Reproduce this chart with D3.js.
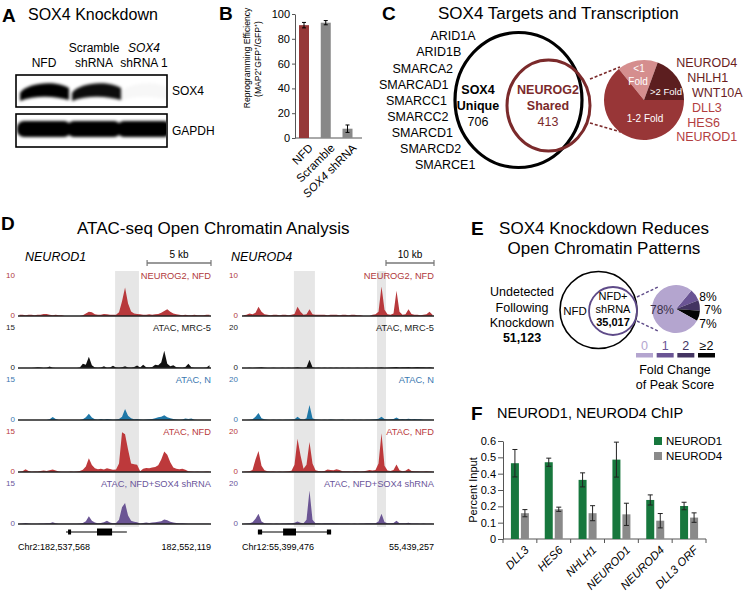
<!DOCTYPE html>
<html><head><meta charset="utf-8">
<script src="https://cdn.jsdelivr.net/npm/d3@7"></script>
<style>
body{margin:0;background:#fff}
svg{display:block;font-family:"Liberation Sans",Arial,Helvetica,sans-serif}
</style></head><body>
<svg id="fig" width="744" height="592"></svg>
<script>
// ================= DATA =================
// Panel A – western blot
const blotLanes = ["NFD", "Scramble shRNA", "SOX4 shRNA 1"];
const blotRows = ["SOX4", "GAPDH"];
const sox4BandLevel = [1.0, 0.95, 0.03];
const gapdhBandLevel = [1.0, 1.0, 1.0];

// Panel B – reprogramming efficiency
const effCategories = ["NFD", "Scramble", "SOX4 shRNA"];
const effValues = [91, 93, 7.5];
const effErrors = [2.2, 1.7, 3.0];
const effTicks = [0, 20, 40, 60, 80, 100];

// Panel C – SOX4 targets
const swiSnfGenes = ["ARID1A","ARID1B","SMARCA2","SMARCAD1","SMARCC1","SMARCC2","SMARCD1","SMARCD2","SMARCE1"];
const vennSetNames = [["SOX4","Unique"], ["NEUROG2","Shared"]];
const vennCounts = [706, 413];
const foldCategories = [["<1","Fold"], [">2 Fold"], ["1-2 Fold"]];
const foldShares = [16.4, 19.4, 64.2];
const upregTargets = ["NEUROD4","NHLH1","WNT10A","DLL3","HES6","NEUROD1"];
const upregGroup = [">2", ">2", ">2", "1-2", "1-2", "1-2"];

// Panel D – ATAC-seq tracks (64 bins per locus)
const trackNames = ["NEUROG2, NFD", "ATAC, MRC-5", "ATAC, N", "ATAC, NFD", "ATAC, NFD+SOX4 shRNA"];
const neurod1Max = [10, 15, 15, 15, 15];
const neurod4Max = [10, 20, 20, 20, 20];
const neurod1SpanKb = 15.1;
const neurod4SpanKb = 40;
const neurod1ScaleKb = 5;
const neurod4ScaleKb = 10;
const neurod1Coords = ["Chr2:182,537,568", "182,552,119"];
const neurod4Coords = ["Chr12:55,399,476", "55,439,257"];
const neurod1Highlight = [[32.2, 40.1]];
const neurod4Highlight = [[17.3, 24.3], [45.0, 48.0]];
const neurod1Gene = {line: [15.9, 36.1], exons: [[16.6, 17.6], [26.2, 31.2]]};
const neurod4Gene = {line: [5.3, 29.7], exons: [[5.3, 6.7], [13.7, 18.0], [28.3, 29.7]]};

const neurod1_NEUROG2 = [0.3,0.3,0.2,0.3,0.3,0.2,0.3,0.3,0.5,0.5,0.3,0.2,0.3,0.2,0.2,0,0,0,0,0,0,0.2,0.6,1.0,0.9,0.4,0.3,0.3,0.5,0.4,0.3,0.3,0.3,0.9,3.5,6.8,3.0,1.1,0.6,0.5,0.4,0.3,0.3,0.4,0.3,0.4,0.5,0.8,1.2,1.6,1.0,0.6,0.4,0.3,0.2,0.3,0.2,0.2,0.3,0.2,0.2,0.2,0.3,0.3];
const neurod1_MRC5 = [0,0,0,0,0,0.1,0.3,0.2,0,0.1,0.5,0.1,0,0,0,0,0,0,0,0,0.2,1.5,1.2,4.0,1.0,0.2,0.1,0.2,0.6,0.1,0.2,0.8,0.2,0.1,0.3,0.6,0.2,0.1,0.4,0.9,0.2,1.2,0.3,0.2,0.4,1.2,1.0,2.0,6.2,1.5,0.6,1.0,0.3,0.2,0.1,0.4,1.5,0.3,0.1,0.1,0.1,0.1,0.2,1.0];
const neurod1_N = [0,0,0,0,0,0,0,0,0,0,0.3,1.1,0.4,0,0,0,0,0,0,0,0,0.3,1.0,2.2,0.9,0.3,0.1,0.4,0.2,0.4,0.3,0.1,0.2,0.4,1.2,3.9,1.5,0.6,0.3,0.4,0.2,0.1,0.2,0.3,0.4,0.6,1.0,1.2,1.7,1.0,0.6,0.4,0.2,0.1,0.2,0.5,0.4,0.5,0.1,0,0,0,0,0];
const neurod1_NFD = [0.1,0.3,1.0,0.4,0.1,0.2,0.2,0.4,0.5,0.4,0.6,0.9,0.5,0.2,0.1,0.1,0.1,0.2,0.1,0.2,0.4,0.8,2.0,4.9,2.5,1.3,1.0,1.2,0.9,1.3,1.1,0.8,0.9,3.0,14.2,13.5,8.0,3.0,2.8,2.6,0.3,1.2,1.4,1.3,1.6,1.8,2.4,4.5,7.3,6.2,3.5,1.6,1.2,1.0,1.2,0.8,0.3,0.2,0.1,0.2,0.1,0.1,0.2,0.2];
const neurod1_shSOX4 = [0.1,0.2,0.4,0.2,0.1,0.1,0.1,0.2,0.2,0.3,0.3,0.6,0.3,0.1,0.1,0.1,0.1,0.1,0.1,0.1,0.2,0.4,1.0,2.8,1.2,0.5,0.3,0.4,0.6,1.2,0.5,0.3,0.4,1.5,6.0,7.5,3.0,1.2,0.8,0.6,0.2,0.4,0.5,0.4,0.5,0.6,0.8,1.0,1.6,1.3,0.8,0.5,0.4,0.3,0.3,0.2,0.1,0.1,0.1,0.1,0.1,0.1,0.1,0.1];

const neurod4_NEUROG2 = [0.2,0.3,0.6,0.4,0.8,2.2,1.0,0.4,0.3,0.2,0.3,0.3,0.2,0.3,0.3,0.2,0.3,0.5,2.2,1.0,0.3,0.4,1.6,0.4,0.3,0.3,0.3,0.3,0.2,0.3,0.3,0.3,0.2,0.3,0.3,0.2,0.3,0.3,0.2,0.2,0,0,0,0.3,0.4,1.0,7.0,1.5,0.4,0.3,0.6,6.0,1.0,0.3,0.4,1.6,0.5,0.3,0.3,0.2,0.3,0.4,1.0,0.3];
const neurod4_MRC5 = [0,0,0.1,0,0.1,0.2,0.4,0.1,0,0,0.1,0,0,0.1,0,0.1,0,0.1,0.3,0.1,0,0.3,3.9,0.3,0,0.1,0,0.1,0,0.1,0,0.1,0,0.1,0,0.1,0,0,0.1,0,0,0.1,0,0.1,0,0.1,0.2,0,0.1,0.2,0.4,0.5,0.2,0.4,0.3,0.5,0.2,0.4,0.5,0.3,0.4,0.2,0.4,0.1];
const neurod4_N = [0,0,0.1,0.4,1.5,3.3,0.8,0.3,0.1,0,0.1,0,0.1,0,0.1,0.1,0.2,0.4,1.5,0.5,0.2,0.8,7.2,0.8,0.2,0.1,0,0.1,0,0.2,0.1,0,0.1,0.2,0,0.1,0,0.1,0,0.1,0,0.1,0.1,0.2,0.3,0.6,1.5,0.5,0.2,0.3,0.5,1.2,0.4,0.5,0.4,0.6,0.3,0.5,0.4,0.3,0.1,0.1,0.1,0];
const neurod4_NFD = [0.1,0.2,0.3,1.0,6.0,10.0,3.0,0.8,0.3,0.2,0.2,0.1,0.2,0.1,0.2,0.3,0.6,3.5,15.8,8.0,1.5,3.5,14.3,4.0,0.8,0.5,0.4,0.5,1.2,1.0,0.8,1.3,0.9,0.4,0.3,0.3,0.2,0.3,0.3,0.2,0.3,0.6,0.9,0.7,1.0,4.0,18.4,3.0,0.7,0.5,1.0,3.6,0.8,0.4,0.6,1.6,0.5,0.3,0.3,0.2,0.2,0.3,0.2,0.1];
const neurod4_shSOX4 = [0.1,0.2,0.3,0.8,2.5,4.9,1.2,0.4,0.2,0.2,0.1,0.2,0.1,0.2,0.2,0.3,0.3,0.6,1.2,0.6,0.4,2.0,16.0,2.0,0.4,0.3,0.2,0.3,0.4,0.3,0.4,0.3,0.2,0.2,0.2,0.2,0.1,0.2,0.1,0.2,0.2,0.3,0.3,0.3,0.4,1.2,4.9,1.0,0.3,0.4,0.5,1.5,0.4,0.3,0.3,0.6,0.2,0.2,0.2,0.1,0.2,0.1,0.1,0.1];

// Panel E – open chromatin
const eLeftLabel = ["Undetected","Following","Knockdown"];
const eCounts = [51123, 35017];
const eSetNames = ["NFD", ["NFD+","shRNA"]];
const peakFoldLabels = ["0", "1", "2", "\u22652"];
const peakFoldShares = [78, 8, 7, 7];

// Panel F – ChIP
const chipGenes = ["DLL3","HES6","NHLH1","NEUROD1","NEUROD4","DLL3 ORF"];
const chipSeries = ["NEUROD1","NEUROD4"];
const neurod1Chip = [0.464, 0.47, 0.362, 0.486, 0.239, 0.202];
const neurod1ChipErr = [0.084, 0.025, 0.043, 0.107, 0.031, 0.023];
const neurod4Chip = [0.158, 0.182, 0.158, 0.151, 0.112, 0.131];
const neurod4ChipErr = [0.022, 0.013, 0.046, 0.068, 0.044, 0.029];
const chipTicks = [0, 0.1, 0.2, 0.3, 0.4, 0.5, 0.6];

// ================= DRAWING =================
const FONT = '"Liberation Sans", Arial, Helvetica, sans-serif';
const svg = d3.select("#fig");
const defs = svg.append("defs");
defs.append("filter").attr("id","blur").attr("x","-20%").attr("y","-50%").attr("width","140%").attr("height","200%")
  .append("feGaussianBlur").attr("stdDeviation", 1.4);

function T(g, x, y, s, o = {}) {
  const t = g.append("text").attr("x", x).attr("y", y).attr("dy", "0.35em")
    .attr("font-size", o.size || 12).attr("text-anchor", o.anchor || "start")
    .attr("fill", o.fill || "#000");
  if (o.weight) t.attr("font-weight", o.weight);
  if (o.italic) t.attr("font-style", "italic");
  t.text(s);
  return t;
}
function panelLetter(s, x, y) { T(svg, x, y, s, {size: 19, weight: "bold"}); }

// ---------- Panel A ----------
{
  const g = svg.append("g");
  panelLetter("A", 2, 15);
  T(g, 28, 14, "SOX4 Knockdown", {size: 16});
  const lx = d3.scalePoint().domain(blotLanes).range([44, 144]);
  const laneLines = {"NFD": [["NFD", false]], "Scramble shRNA": [["Scramble", false], ["shRNA", false]], "SOX4 shRNA 1": [["SOX4", true], ["shRNA 1", false]]};
  blotLanes.forEach(l => {
    const lines = laneLines[l];
    lines.forEach((ln, i) => {
      T(g, lx(l), 63 - 15 * (lines.length - 1 - i), ln[0], {size: 12, anchor: "middle", italic: ln[1]});
    });
  });
  const boxes = [{y: 75, h: 32}, {y: 114, h: 33}];
  boxes.forEach((b, i) => {
    defs.append("clipPath").attr("id", "blot" + i).append("rect").attr("x", 17).attr("y", b.y + 1).attr("width", 149).attr("height", b.h - 2);
  });
  const b1 = g.append("g").attr("clip-path", "url(#blot0)").attr("filter", "url(#blur)");
  blotLanes.forEach((l, i) => {
    const c = lx(l) + (i === 1 ? 3 : 1);
    b1.append("path")
      .attr("d", `M${c - 25},${93} C${c - 18},${82} ${c + 12},${80} ${c + 24},${88} L${c + 24},${100} C${c + 10},${96} ${c - 10},${95} ${c - 25},${101} Z`)
      .attr("fill", "#000").attr("opacity", sox4BandLevel[i]);
  });
  const b2 = g.append("g").attr("clip-path", "url(#blot1)").attr("filter", "url(#blur)");
  blotLanes.forEach((l, i) => {
    b2.append("rect").attr("x", lx(l) - 27).attr("y", 121).attr("width", 54).attr("height", 16).attr("rx", 7)
      .attr("fill", "#000").attr("opacity", gapdhBandLevel[i]);
  });
  boxes.forEach(b => {
    g.append("rect").attr("x", 16).attr("y", b.y).attr("width", 151).attr("height", b.h)
      .attr("fill", "none").attr("stroke", "#000").attr("stroke-width", 1.6);
  });
  T(g, 172, 91, blotRows[0], {size: 12});
  T(g, 172, 131, blotRows[1], {size: 12});
}

// ---------- Panel B ----------
{
  const g = svg.append("g");
  panelLetter("B", 219, 13);
  const y = d3.scaleLinear().domain([0, 100]).range([138, 14]);
  const x = d3.scalePoint().domain(effCategories).range([304, 347.5]);
  const ax = g.append("g").attr("transform", "translate(295,0)")
    .call(d3.axisLeft(y).tickValues(effTicks).tickSize(3).tickSizeOuter(0).tickPadding(2));
  ax.attr("font-family", FONT).attr("font-size", 11);
  ax.selectAll("line,path").attr("stroke", "#555");
  ax.selectAll("text").attr("fill", "#000");
  g.append("line").attr("x1", 295).attr("x2", 362).attr("y1", y(0)).attr("y2", y(0)).attr("stroke", "#555");
  const colors = ["#963838", "#888888", "#888888"];
  effCategories.forEach((c, i) => {
    g.append("rect").attr("x", x(c) - 5).attr("width", 10).attr("y", y(effValues[i])).attr("height", y(0) - y(effValues[i])).attr("fill", colors[i]);
    const e0 = y(effValues[i] - effErrors[i]), e1 = y(effValues[i] + effErrors[i]);
    g.append("line").attr("x1", x(c)).attr("x2", x(c)).attr("y1", e0).attr("y2", e1).attr("stroke", "#000").attr("stroke-width", 1);
    [e0, e1].forEach(v => g.append("line").attr("x1", x(c) - 2).attr("x2", x(c) + 2).attr("y1", v).attr("y2", v).attr("stroke", "#000"));
    const t = g.append("text").attr("transform", `translate(${x(c) + 4},${143}) rotate(-45)`)
      .attr("text-anchor", "end").attr("font-size", 11.5).attr("dy", "0.7em");
    if (c.startsWith("SOX4")) {
      t.append("tspan").attr("font-style", "italic").text("SOX4");
      t.append("tspan").text(" shRNA");
    } else t.text(c);
  });
  g.append("text").attr("transform", "translate(247,58) rotate(-90)").attr("text-anchor", "middle")
    .attr("font-size", 8.6).attr("dy", "0.35em").text("Reprogramming Efficiency");
  g.append("text").attr("transform", "translate(257.5,59) rotate(-90)").attr("text-anchor", "middle")
    .attr("font-size", 8.6).attr("dy", "0.35em").text("(MAP2\u207AGFP\u207A/GFP\u207A)");
}

// ---------- Panel C ----------
{
  const g = svg.append("g");
  panelLetter("C", 382, 13);
  T(g, 438, 13, "SOX4 Targets and Transcription", {size: 17});
  const cx = 518, cy = 100.5;
  swiSnfGenes.forEach((s, i) => {
    const yy = 36 + i * 16.1;
    const dy = yy - cy;
    const xe = cx - 71 * Math.sqrt(Math.max(0, 1 - (dy / 80.4) ** 2));
    T(g, xe, yy, s, {size: 12.5, anchor: "end"});
  });
  const dark = "#7b2a2b";
  g.append("ellipse").attr("cx", 518.5).attr("cy", 100).attr("rx", 63.5).attr("ry", 67.5)
    .attr("fill", "none").attr("stroke", "#000").attr("stroke-width", 3.2);
  g.append("ellipse").attr("cx", 548.5).attr("cy", 105.5).attr("rx", 41.5).attr("ry", 45.5)
    .attr("fill", "none").attr("stroke", dark).attr("stroke-width", 3);
  T(g, 478, 90, vennSetNames[0][0], {size: 12.5, weight: "bold", anchor: "middle"});
  T(g, 478, 106, vennSetNames[0][1], {size: 12.5, weight: "bold", anchor: "middle"});
  T(g, 478, 122, String(vennCounts[0]), {size: 12.5, anchor: "middle"});
  T(g, 548, 90, vennSetNames[1][0], {size: 12.5, weight: "bold", anchor: "middle", fill: dark});
  T(g, 548, 106, vennSetNames[1][1], {size: 12.5, weight: "bold", anchor: "middle", fill: dark});
  T(g, 548, 122, String(vennCounts[1]), {size: 12.5, anchor: "middle", fill: dark});
  [[590, 79, 620, 67], [590, 123, 621, 132]].forEach(l => {
    g.append("line").attr("x1", l[0]).attr("y1", l[1]).attr("x2", l[2]).attr("y2", l[3])
      .attr("stroke", dark).attr("stroke-width", 1.6).attr("stroke-dasharray", "3,2");
  });
  const pcx = 644, pcy = 100, r = 40;
  const start = -39 * Math.PI / 180;
  const pie = d3.pie().sort(null).value(d => d).startAngle(start).endAngle(start + 2 * Math.PI);
  const arc = d3.arc().innerRadius(0).outerRadius(r);
  const pcol = ["#d58e8e", "#5c1e1f", "#983637"];
  const pg = g.append("g").attr("transform", `translate(${pcx},${pcy})`);
  pie(foldShares).forEach((a, i) => pg.append("path").attr("d", arc(a)).attr("fill", pcol[i]));
  T(pg, -5, -32, foldCategories[0][0], {size: 10, anchor: "middle", fill: "#fff"});
  T(pg, -6, -19, foldCategories[0][1], {size: 10, anchor: "middle", fill: "#fff"});
  T(pg, 22, -8, foldCategories[1][0], {size: 9.5, anchor: "middle", fill: "#fff"});
  T(pg, 1, 18, foldCategories[2][0], {size: 10, anchor: "middle", fill: "#fff"});
  const gcol = {">2": "#6a1d1e", "1-2": "#b23e3f"};
  upregTargets.forEach((s, i) => {
    const yy = 63 + i * 14.8;
    const dy = yy - pcy;
    const xs = pcx + Math.sqrt(Math.max(0, 50 * 50 - dy * dy)) - 1.5;
    T(g, xs, yy, s, {size: 12.5, fill: gcol[upregGroup[i]]});
  });
}

// ---------- Panel D ----------
{
  const g = svg.append("g");
  panelLetter("D", 1, 223);
  T(g, 77, 228, "ATAC-seq Open Chromatin Analysis", {size: 17});
  const trackColors = ["#b8393c", "#111111", "#1f78a8", "#bd393b", "#6b5594"];
  const labelColors = ["#b0393b", "#222222", "#3b78b0", "#b9393b", "#6a559a"];
  const bases = trackNames.map((_, k) => 316 + 52 * k);
  const loci = [
    {name: "NEUROD1", x0: 18, x1: 211, lab: 15, maxes: neurod1Max, span: neurod1SpanKb, scale: neurod1ScaleKb,
     signals: [neurod1_NEUROG2, neurod1_MRC5, neurod1_N, neurod1_NFD, neurod1_shSOX4], hl: neurod1Highlight, gene: neurod1Gene, coords: neurod1Coords, nameX: 25},
    {name: "NEUROD4", x0: 242, x1: 434, lab: 238, maxes: neurod4Max, span: neurod4SpanKb, scale: neurod4ScaleKb,
     signals: [neurod4_NEUROG2, neurod4_MRC5, neurod4_N, neurod4_NFD, neurod4_shSOX4], hl: neurod4Highlight, gene: neurod4Gene, coords: neurod4Coords, nameX: 231}
  ];
  loci.forEach(L => {
    const nb = L.signals[0].length;
    const xb = d3.scaleLinear().domain([0, nb]).range([L.x0, L.x1]);
    const xk = d3.scaleLinear().domain([0, L.span]).range([L.x0, L.x1]);
    T(g, L.nameX, 257, L.name, {size: 12.5, italic: true});
    const sb0 = xk(L.span - L.scale), sb1 = xk(L.span);
    T(g, (sb0 + sb1) / 2, 254, L.scale + " kb", {size: 10, anchor: "middle"});
    g.append("line").attr("x1", sb0).attr("x2", sb1).attr("y1", 263).attr("y2", 263).attr("stroke", "#777").attr("stroke-width", 1.5);
    [sb0, sb1].forEach(v => g.append("line").attr("x1", v).attr("x2", v).attr("y1", 260).attr("y2", 266).attr("stroke", "#777").attr("stroke-width", 1.2));
    L.hl.forEach(h => g.append("rect").attr("x", xb(h[0])).attr("width", xb(h[1]) - xb(h[0])).attr("y", 271).attr("height", 256).attr("fill", "#e6e6e6"));
    L.signals.forEach((sig, k) => {
      const base = bases[k];
      const y = d3.scaleLinear().domain([0, L.maxes[k]]).range([base, base - 42]);
      const area = d3.area().x((d, i) => xb(i + 0.5)).y0(base).y1(d => y(d)).curve(d3.curveLinear);
      g.append("path").datum(sig).attr("d", area).attr("fill", trackColors[k]);
      g.append("line").attr("x1", L.x0).attr("x2", L.x1).attr("y1", base).attr("y2", base).attr("stroke", "#222").attr("stroke-width", 1.3);
      T(g, L.lab, base - 41, String(L.maxes[k]), {size: 8, anchor: "end", fill: labelColors[k]});
      T(g, L.lab, base - 1, "0", {size: 8, anchor: "end", fill: labelColors[k]});
      T(g, L.x1, base - 40, trackNames[k], {size: 9.3, anchor: "end", fill: labelColors[k]});
    });
    const gy = 532;
    g.append("line").attr("x1", xb(L.gene.line[0])).attr("x2", xb(L.gene.line[1])).attr("y1", gy).attr("y2", gy).attr("stroke", "#000").attr("stroke-width", 1.2);
    L.gene.exons.forEach(e => {
      const big = (e[1] - e[0]) > 2;
      g.append("rect").attr("x", xb(e[0])).attr("width", xb(e[1]) - xb(e[0]))
        .attr("y", gy - (big ? 3.5 : 2.5)).attr("height", big ? 7 : 5).attr("fill", "#000");
    });
    T(g, L.x0, 547, L.coords[0], {size: 9});
    T(g, L.x1, 547, L.coords[1], {size: 9, anchor: "end"});
  });
}

// ---------- Panel E ----------
{
  const g = svg.append("g");
  panelLetter("E", 471, 228);
  T(g, 604, 228, "SOX4 Knockdown Reduces", {size: 17, anchor: "middle"});
  T(g, 604, 248, "Open Chromatin Patterns", {size: 17, anchor: "middle"});
  eLeftLabel.forEach((s, i) => T(g, 522, 292 + i * 15.3, s, {size: 12.5, anchor: "middle"}));
  T(g, 522, 338, d3.format(",")(eCounts[0]), {size: 12.5, anchor: "middle", weight: "bold"});
  const purple = "#5e4a88";
  g.append("circle").attr("cx", 598.5).attr("cy", 310).attr("r", 38.5).attr("fill", "none").attr("stroke", "#000").attr("stroke-width", 1.6);
  g.append("circle").attr("cx", 613).attr("cy", 311).attr("r", 24).attr("fill", "none").attr("stroke", purple).attr("stroke-width", 1.8);
  T(g, 575, 311, eSetNames[0], {size: 11.5, anchor: "middle"});
  T(g, 613, 296, eSetNames[1][0], {size: 11, anchor: "middle"});
  T(g, 613, 309, eSetNames[1][1], {size: 11, anchor: "middle"});
  T(g, 613, 322, d3.format(",")(eCounts[1]), {size: 11, anchor: "middle", weight: "bold"});
  [[637, 297, 658, 287], [637, 321, 658, 331]].forEach(l => {
    g.append("line").attr("x1", l[0]).attr("y1", l[1]).attr("x2", l[2]).attr("y2", l[3])
      .attr("stroke", purple).attr("stroke-width", 1.4).attr("stroke-dasharray", "3,2");
  });
  const ecol = ["#b4a5cf", "#6a5494", "#433461", "#050505"];
  const order = [1, 2, 3, 0];
  const st = 40 * Math.PI / 180;
  const pie = d3.pie().sort(null).value(i => peakFoldShares[i]).startAngle(st).endAngle(st + 2 * Math.PI);
  const arc = d3.arc().innerRadius(0).outerRadius(24);
  const pg = g.append("g").attr("transform", "translate(676,309)");
  pie(order).forEach(a => pg.append("path").attr("d", arc(a)).attr("fill", ecol[a.data]));
  T(g, 662, 310, peakFoldShares[0] + "%", {size: 12, anchor: "middle", fill: "#3a3048"});
  T(g, 708, 297, peakFoldShares[1] + "%", {size: 12, anchor: "middle"});
  T(g, 713, 310, peakFoldShares[2] + "%", {size: 12, anchor: "middle"});
  T(g, 708, 324, peakFoldShares[3] + "%", {size: 12, anchor: "middle"});
  const lx = d3.scalePoint().domain(peakFoldLabels).range([644.5, 706.5]);
  peakFoldLabels.forEach((s, i) => {
    T(g, lx(s), 346, s, {size: 12.5, anchor: "middle", fill: ecol[i]});
    g.append("rect").attr("x", lx(s) - 8.5).attr("y", 353).attr("width", 17).attr("height", 4.5).attr("fill", ecol[i]);
  });
  T(g, 675, 370, "Fold Change", {size: 12.5, anchor: "middle"});
  T(g, 675, 385, "of Peak Score", {size: 12.5, anchor: "middle"});
}

// ---------- Panel F ----------
{
  const g = svg.append("g");
  panelLetter("F", 471, 413);
  T(g, 497, 413, "NEUROD1, NEUROD4 ChIP", {size: 14.5});
  const y = d3.scaleLinear().domain([0, 0.6]).range([539, 441]);
  const x = d3.scaleBand().domain(chipGenes).range([503, 706]).padding(0);
  const ax = g.append("g").attr("transform", "translate(503,0)")
    .call(d3.axisLeft(y).tickValues(chipTicks).tickSize(5).tickSizeOuter(0).tickPadding(2)
      .tickFormat(d => d === 0 ? "0" : d3.format(".1f")(d)));
  ax.attr("font-family", FONT).attr("font-size", 11);
  ax.selectAll("line,path").attr("stroke", "#555");
  ax.selectAll("text").attr("fill", "#000");
  g.append("line").attr("x1", 503).attr("x2", 706).attr("y1", y(0)).attr("y2", y(0)).attr("stroke", "#555");
  chipGenes.concat([null]).forEach(c => {
    const xx = c === null ? x.range()[1] : x(c);
    g.append("line").attr("x1", xx).attr("x2", xx).attr("y1", y(0)).attr("y2", y(0) + 4).attr("stroke", "#555");
  });
  const green = "#17773d", gray = "#8a8a8a";
  const series = [{v: neurod1Chip, e: neurod1ChipErr, c: green, off: -9}, {v: neurod4Chip, e: neurod4ChipErr, c: gray, off: 1}];
  chipGenes.forEach((gname, i) => {
    const cx = x(gname) + x.bandwidth() / 2;
    series.forEach(s => {
      const bx = cx + s.off;
      g.append("rect").attr("x", bx).attr("width", 8).attr("y", y(s.v[i])).attr("height", y(0) - y(s.v[i])).attr("fill", s.c);
      const mx = bx + 4;
      const e0 = y(s.v[i] - s.e[i]), e1 = y(s.v[i] + s.e[i]);
      g.append("line").attr("x1", mx).attr("x2", mx).attr("y1", e0).attr("y2", e1).attr("stroke", "#222").attr("stroke-width", 1);
      [e0, e1].forEach(v => g.append("line").attr("x1", mx - 2.5).attr("x2", mx + 2.5).attr("y1", v).attr("y2", v).attr("stroke", "#222"));
    });
    g.append("text").attr("transform", `translate(${cx + 4},${545}) rotate(-45)`).attr("text-anchor", "end")
      .attr("dy", "0.7em").attr("font-size", 11.5).attr("font-style", "italic").text(gname);
  });
  g.append("text").attr("transform", "translate(473,490) rotate(-90)").attr("text-anchor", "middle")
    .attr("dy", "0.35em").attr("font-size", 11).text("Percent Input");
  [green, gray].forEach((c, i) => {
    g.append("rect").attr("x", 654).attr("y", 437 + i * 15).attr("width", 8).attr("height", 8).attr("fill", c);
    T(g, 666, 441 + i * 15, chipSeries[i], {size: 11.5});
  });
}
</script>
</body></html>
